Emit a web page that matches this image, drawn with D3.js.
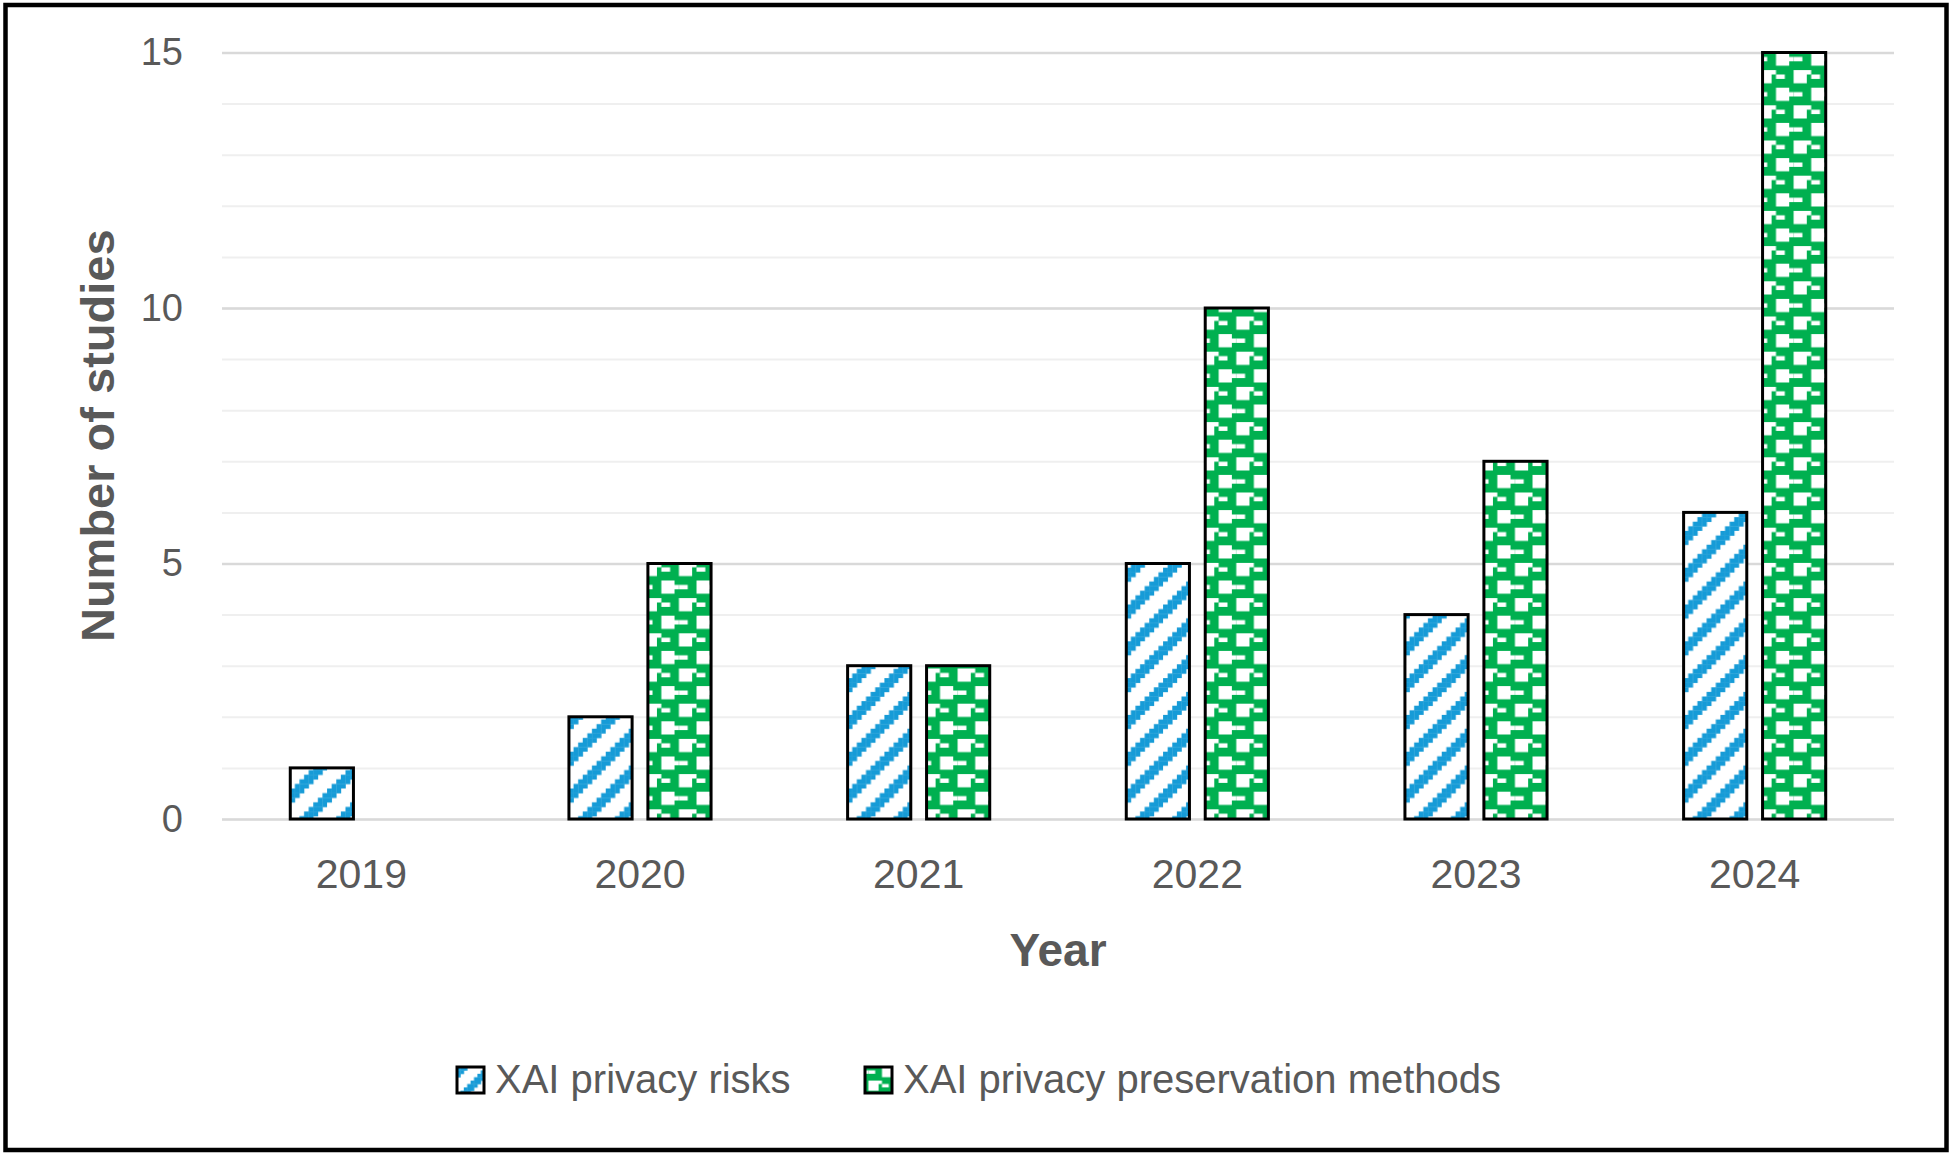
<!DOCTYPE html>
<html>
<head>
<meta charset="utf-8">
<script src="https://d3js.org/d3.v7.min.js"></script>
<style>
  body { margin: 0; background: #fff; }
  svg { display: block; font-family: "Liberation Sans", Arial, sans-serif; }
</style>
</head>
<body>
<svg id="chart" width="1952" height="1155"></svg>
<script>
// donnees
var years = ["2019", "2020", "2021", "2022", "2023", "2024"];
var series = ["XAI privacy risks", "XAI privacy preservation methods"];
var risks = [1, 2, 3, 5, 4, 6];
var methods = [0, 5, 3, 10, 7, 15];
var yTicks = [0, 5, 10, 15];

var W = 1952, H = 1155;
var margin = {top: 52.5, right: 58, bottom: 336, left: 222};
var width = W - margin.left - margin.right,
    height = H - margin.top - margin.bottom;
var textCol = "#595959";
var blue = "#169bd7", green = "#00b050";

var svg = d3.select("#chart");
var defs = svg.append("defs");

// motif rayures bleues (diagonale montante large)
function stripes(id, px) {
  var p = defs.append("pattern").attr("id", id)
    .attr("patternUnits", "userSpaceOnUse")
    .attr("width", 8 * px).attr("height", 8 * px);
  p.append("rect").attr("width", 8 * px).attr("height", 8 * px).attr("fill", "#fff");
  for (var r = 0; r < 8; r++) {
    for (var c = 0; c < 8; c++) {
      if ((c + r) % 8 < 3) {
        p.append("rect").attr("x", c * px).attr("y", r * px)
          .attr("width", px + 0.3).attr("height", px + 0.3).attr("fill", blue);
      }
    }
  }
}
// motif "sphere" vert
function spheres(id, px) {
  var p = defs.append("pattern").attr("id", id)
    .attr("patternUnits", "userSpaceOnUse")
    .attr("width", 8 * px).attr("height", 8 * px);
  p.append("rect").attr("width", 8 * px).attr("height", 8 * px).attr("fill", green);
  [[5, 0, 3, 3], [1, 4, 3, 3], [0, 1, 1, 1], [1, 1, 2, 1], [5, 5, 2, 1], [4, 4, 1, 1]].forEach(function(b) {
    p.append("rect").attr("x", b[0] * px).attr("y", b[1] * px)
      .attr("width", b[2] * px).attr("height", b[3] * px).attr("fill", "#fff");
  });
}
stripes("pRisk", 4.6);
spheres("pMeth", 4.4);
stripes("pRiskL", 3.4);
spheres("pMethL", 3.4);
var fills = ["url(#pRisk)", "url(#pMeth)"];
var legendFills = ["url(#pRiskL)", "url(#pMethL)"];

// cadre noir
svg.append("rect")
  .attr("x", 5.5).attr("y", 5).attr("width", W - 11).attr("height", H - 10)
  .attr("fill", "none").attr("stroke", "#000").attr("stroke-width", 4.5);

var g = svg.append("g").attr("transform", "translate(" + margin.left + "," + margin.top + ")");

var x = d3.scaleBand().domain(years).range([0, width]).paddingInner(0.49).paddingOuter(0.245);
var xs = d3.scaleBand().domain(series).range([0, x.bandwidth()]).paddingInner(0.2);
var y = d3.scaleLinear().domain([0, 15]).range([height, 0]);

// grille secondaire
g.append("g").attr("class", "minor")
  .call(d3.axisLeft(y).ticks(15).tickSize(-width).tickFormat(""))
  .call(function(s) {
    s.select(".domain").remove();
    s.selectAll("line").attr("stroke", "#efefef").attr("stroke-width", 2);
  });

// grille principale + etiquettes
g.append("g").attr("class", "major")
  .call(d3.axisLeft(y).tickValues(yTicks).tickSize(-width).tickPadding(39))
  .call(function(s) {
    s.select(".domain").remove();
    s.selectAll("line").attr("stroke", "#d9d9d9").attr("stroke-width", 2.5);
    s.selectAll("text").attr("fill", textCol).style("font-size", "38px")
      .attr("font-family", "Liberation Sans, Arial, sans-serif");
  });

// axe x
g.append("g").attr("transform", "translate(0," + height + ")")
  .call(d3.axisBottom(x).tickSize(0).tickPadding(40))
  .call(function(s) {
    s.select(".domain").remove();
    s.selectAll("text").attr("fill", textCol).style("font-size", "41px")
      .attr("font-family", "Liberation Sans, Arial, sans-serif");
  });

// barres
var rows = years.map(function(yr, i) {
  return {year: yr, vals: [risks[i], methods[i]]};
});
var grp = g.selectAll(".yr").data(rows).enter().append("g")
  .attr("transform", function(d) { return "translate(" + x(d.year) + ",0)"; });
grp.selectAll("rect")
  .data(function(d) {
    return d.vals.map(function(v, k) { return {s: series[k], k: k, v: v}; })
      .filter(function(e) { return e.v > 0; });
  })
  .enter().append("rect")
  .attr("x", function(d) { return xs(d.s); })
  .attr("y", function(d) { return y(d.v); })
  .attr("width", xs.bandwidth())
  .attr("height", function(d) { return height - y(d.v); })
  .attr("fill", function(d) { return fills[d.k]; })
  .attr("stroke", "#000").attr("stroke-width", 3);

// titres des axes
svg.append("text")
  .attr("x", margin.left + width / 2).attr("y", 966)
  .attr("text-anchor", "middle")
  .attr("fill", textCol).attr("font-weight", "bold").style("font-size", "46px")
  .text("Year");

svg.append("text")
  .attr("transform", "translate(114," + (margin.top + height / 2) + ") rotate(-90)")
  .attr("text-anchor", "middle")
  .attr("fill", textCol).attr("font-weight", "bold").style("font-size", "47px")
  .text("Number of studies");

// legende
var legX = [457, 865];
var leg = svg.selectAll(".leg").data(series).enter().append("g")
  .attr("transform", function(d, i) { return "translate(" + legX[i] + ",1067)"; });
leg.append("rect")
  .attr("width", 27).attr("height", 26)
  .attr("fill", function(d, i) { return legendFills[i]; })
  .attr("stroke", "#000").attr("stroke-width", 3);
leg.append("text")
  .attr("x", 38).attr("y", 26)
  .attr("fill", textCol).style("font-size", "40px")
  .text(function(d) { return d; });
</script>
</body>
</html>
